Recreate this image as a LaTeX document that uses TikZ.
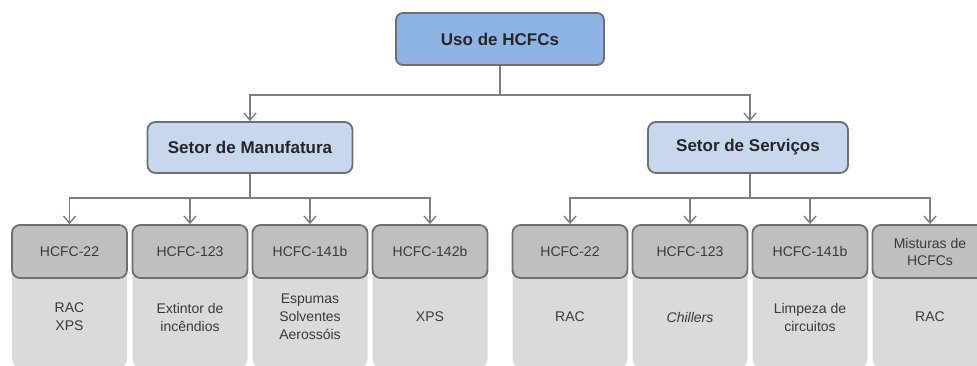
\documentclass[tikz,border=0pt]{standalone}
\usepackage{fontspec}
\setmainfont{Liberation Sans}
\usetikzlibrary{arrows.meta}
\definecolor{topfill}{HTML}{8EB4E3}
\definecolor{setorfill}{HTML}{C6D7EE}
\definecolor{headfill}{HTML}{BFBFBF}
\definecolor{bodyfill}{HTML}{DADADA}
\definecolor{edgegray}{HTML}{6F6F6F}
\definecolor{linegray}{HTML}{7F7F7F}
\definecolor{txtgray}{HTML}{3A3A3A}
\begin{document}
\begin{tikzpicture}[x=1pt,y=-1pt,
  conn/.style={draw=linegray,line width=1.6pt},
  arr/.style={conn,-{Straight Barb[length=7pt,width=12pt,line width=1.4pt]}},
  topbox/.style={draw=edgegray,line width=1.8pt,fill=topfill,rounded corners=7pt,
    minimum width=208pt,minimum height=52pt,inner sep=0pt,
    font=\fontsize{17}{20}\selectfont\bfseries,text=black!85},
  setorbox/.style={draw=edgegray,line width=1.8pt,fill=setorfill,rounded corners=8pt,
    minimum height=51pt,inner sep=0pt,
    font=\fontsize{17}{20}\selectfont\bfseries,text=black!85},
  headbox/.style={draw=edgegray,line width=1.8pt,fill=headfill,rounded corners=8pt,
    minimum width=115pt,minimum height=53pt,inner sep=0pt,align=center,
    font=\fontsize{14}{17}\selectfont,text=txtgray},
  bodybox/.style={fill=bodyfill,rounded corners=9pt,
    minimum width=115pt,minimum height=138pt,inner sep=0pt},
  bodytext/.style={align=center,inner sep=0pt,
    font=\fontsize{14}{18}\selectfont,text=txtgray}]
\clip (0,0) rectangle (977,365);

% root
\node[topbox] (uso) at (500,39) {Uso de HCFCs};

% sectors
\node[setorbox,minimum width=205pt] (man) at (250,147.5) {Setor de Manufatura};
\node[setorbox,minimum width=200pt] (serv) at (748,147.5) {Setor de Serviços};

% lower panels (drawn first, headers on top)
\foreach \x/\n in {69.5/a,190/b,310/c,430/d,570/e,690/f,810/g,930/h}{
  \node[bodybox] (body\n) at (\x,299) {};
}

% headers
\node[headbox] (ha) at (69.5,251.5) {HCFC-22};
\node[headbox] (hb) at (190,251.5) {HCFC-123};
\node[headbox] (hc) at (310,251.5) {HCFC-141b};
\node[headbox] (hd) at (430,251.5) {HCFC-142b};
\node[headbox] (he) at (570,251.5) {HCFC-22};
\node[headbox] (hf) at (690,251.5) {HCFC-123};
\node[headbox] (hg) at (810,251.5) {HCFC-141b};
\node[headbox] (hh) at (930,251.5) {Misturas de\\HCFCs};

% panel texts
\node[bodytext] (ta) at (69.5,317) {RAC\\XPS};
\node[bodytext] (tb) at (190,317) {Extintor de\\incêndios};
\node[bodytext] (tc) at (310,317) {Espumas\\Solventes\\Aerossóis};
\node[bodytext] (td) at (430,317) {XPS};
\node[bodytext] (te) at (570,317) {RAC};
\node[bodytext] (tf) at (690,317) {\itshape Chillers};
\node[bodytext] (tg) at (810,317) {Limpeza de\\circuitos};
\node[bodytext] (th) at (930,317) {RAC};

% connectors
\coordinate (tbus) at (500,95);
\coordinate (mbus) at (250,198);
\coordinate (sbus) at (750,198);

\draw[conn] (uso.south) -- (tbus);
\draw[arr] (tbus) -| (man.north);
\draw[arr] (tbus) -| ([xshift=2pt]serv.north);

\draw[conn] (man.south) -- (mbus);
\foreach \n in {a,b,c,d}{\draw[arr] (mbus) -| (h\n.north);}

\draw[conn] ([xshift=2pt]serv.south) -- (sbus);
\foreach \n in {e,f,g,h}{\draw[arr] (sbus) -| (h\n.north);}
\end{tikzpicture}
\end{document}
